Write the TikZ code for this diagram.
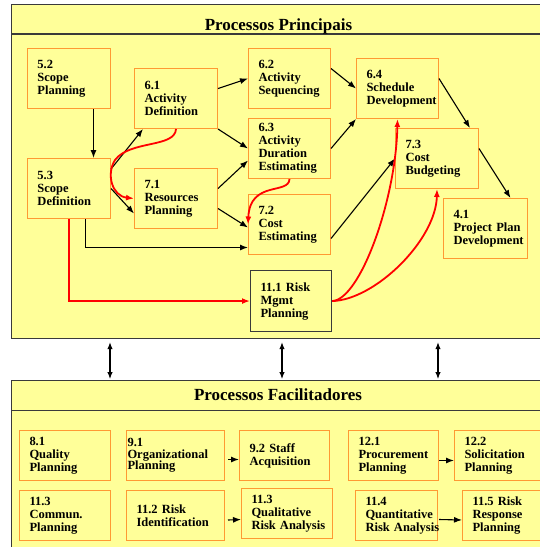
\documentclass[tikz,border=0pt]{standalone}
\usepackage{fontspec}
\setmainfont{Liberation Serif}
\usetikzlibrary{arrows.meta}
\definecolor{bgyellow}{HTML}{FFFF99}
\definecolor{boxorange}{HTML}{FF9933}
\definecolor{framegray}{HTML}{3A3A3A}
\newcommand{\boxfont}{\fontsize{12.5}{13}\selectfont\bfseries\hyphenpenalty 10000 }
\newcommand{\tightfont}{\fontsize{12.5}{11.5}\selectfont\bfseries\hyphenpenalty 10000 }
\begin{document}
\begin{tikzpicture}[x=1pt,y=-1pt,
  frame/.style={draw=framegray, line width=1.2pt, fill=bgyellow, anchor=north west, inner sep=0pt},
  box/.style={draw=boxorange, line width=1pt, fill=bgyellow, anchor=north west, align=left,
    inner xsep=10pt, inner ysep=0pt, minimum height=60pt, font=\boxfont},
  lowbox/.style={box, minimum height=50pt},
  riskbox/.style={box, draw=framegray, line width=1.1pt},
  title/.style={anchor=base, font=\fontsize{17}{19}\selectfont\bfseries},
  arr/.style={-{Latex[length=8pt,width=6pt]}, line width=1.1pt, black},
  redarr/.style={-{Latex[length=8pt,width=6pt]}, line width=1.8pt, red},
  darr/.style={{Latex[length=7pt,width=5.5pt]}-{Latex[length=7pt,width=5.5pt]}, line width=1.1pt, black}
]
\useasboundingbox (0,0) rectangle (540,547);
\clip (0,0) rectangle (540,547);
\fill[white] (0,0) rectangle (540,547);

% frames
\node[frame, minimum width=545pt, minimum height=334pt] (topframe) at (11,4) {};
\draw[framegray, line width=1.2pt] (11,34) -- (556,34);
\node[title] (t1) at (278.5,30) {Processos Principais};

\node[frame, minimum width=545pt, minimum height=180pt] (botframe) at (11,380) {};
\draw[framegray, line width=1.2pt] (11,410.5) -- (556,410.5);
\node[title] (t2) at (278,400) {Processos Facilitadores};

% main boxes
\node[box, text width=63pt] (n52) at (27,48) {5.2\\Scope\\Planning};
\node[box, text width=63pt] (n61) at (134,68) {6.1\\Activity\\Definition};
\node[box, text width=62pt] (n62) at (248,48) {6.2\\Activity\\Sequencing};
\node[box, text width=62pt] (n63) at (248,118) {6.3\\Activity\\Duration\\Estimating};
\node[box, text width=63pt] (n53) at (27,158) {5.3\\Scope\\Definition};
\node[box, text width=63pt] (n71) at (134,168) {7.1\\Resources\\Planning};
\node[box, text width=62pt] (n72) at (248,194) {7.2\\Cost\\Estimating};
\node[box, text width=62pt] (n64) at (356,58) {6.4\\Schedule\\Development};
\node[box, text width=63pt] (n73) at (395,128) {7.3\\Cost\\Budgeting};
\node[box, text width=64pt] (n41) at (443,198) {4.1\\Project~Plan\\Development};
\node[riskbox, text width=61pt, minimum height=61pt] (n111) at (250,270) {11.1~Risk\\Mgmt\\Planning};

% facilitating boxes
\node[lowbox, text width=71pt] (n81) at (19,430) {8.1\\Quality\\Planning};
\node[lowbox, text width=96pt, inner xsep=1pt, font=\tightfont] (n91) at (126,430) {9.1\\Organizational\\Planning};
\node[lowbox, text width=70pt] (n92) at (239,430) {9.2~Staff\\Acquisition};
\node[lowbox, text width=70pt] (n121) at (348,430) {12.1\\Procurement\\Planning};
\node[lowbox, text width=80pt] (n122) at (454,430) {12.2\\Solicitation\\Planning};
\node[lowbox, text width=71pt] (n113c) at (19,490) {11.3\\Commun.\\Planning};
\node[lowbox, text width=78pt] (n112) at (126,490) {11.2~Risk\\Identification};
\node[lowbox, text width=71pt] (n113q) at (241,488) {11.3\\Qualitative\\Risk~Analysis};
\node[lowbox, text width=62pt] (n114) at (355,490) {11.4\\Quantitative\\Risk~Analysis};
\node[lowbox, text width=80pt] (n115) at (462,490) {11.5~Risk\\Response\\Planning};

% black connectors, main processes
\draw[arr] ([xshift=24.5pt]n52.south) -- ([xshift=24.5pt]n53.north);
\draw[arr] ([yshift=-11pt]n53.north east) -- ([xshift=9pt]n61.south west);
\draw[arr] (n53.east) -- ([yshift=-15pt]n71.west);
\draw[arr] ([xshift=16.5pt]n53.south) |- ([yshift=-23pt]n72.west);
\draw[arr] ([yshift=10pt]n61.east) -- (n62.west);
\draw[arr] (n61.south east) -- (n63.west);
\draw[arr] ([yshift=10pt]n71.east) -- ([yshift=-12pt]n63.west);
\draw[arr] ([yshift=-10pt]n71.east) -- ([yshift=-3pt]n72.west);
\draw[arr] ([yshift=10pt]n62.east) -- (n64.west);
\draw[arr] (n63.east) -- (n64.south west);
\draw[arr] ([yshift=-14pt]n72.east) -- (n73.west);
\draw[arr] ([yshift=10pt]n64.east) -- ([xshift=33pt]n73.north);
\draw[arr] ([yshift=10pt]n73.east) -- ([xshift=25pt]n41.north);

% red connectors
\draw[redarr] (n53.south) |- (n111.west);
\draw[redarr] (n61.south) .. controls (175,148) and (130,140) .. (115,160)
  .. controls (106,174) and (112,196) .. (n71.west);
\draw[redarr] (n63.south) .. controls (289,195) and (250,180) .. (n72.west);
\draw[redarr] (n111.east) .. controls (360,300) and (396,200) .. (n64.south);
\draw[redarr] (n111.east) .. controls (375,300) and (436,240) .. (n73.south);

% interface arrows
\draw[darr] ([xshift=99pt,yshift=-3pt]topframe.south west) -- ([xshift=99pt,yshift=1pt]botframe.north west);
\draw[darr] ([xshift=271pt,yshift=-3pt]topframe.south west) -- ([xshift=271pt,yshift=1pt]botframe.north west);
\draw[darr] ([xshift=427pt,yshift=-3pt]topframe.south west) -- ([xshift=427pt,yshift=1pt]botframe.north west);

% facilitating connectors
\draw[arr] ([xshift=3pt,yshift=-4pt]n91.east) -- ([yshift=-4pt]n92.west);
\draw[arr] ([yshift=-5pt]n121.east) -- ([yshift=-5pt]n122.west);
\draw[arr] ([xshift=3pt,yshift=-4.5pt]n112.east) -- ([yshift=-6pt]n113q.west);
\draw[arr] ([xshift=1pt,yshift=-4pt]n114.east) -- ([yshift=-4.5pt]n115.west);
\end{tikzpicture}
\end{document}
